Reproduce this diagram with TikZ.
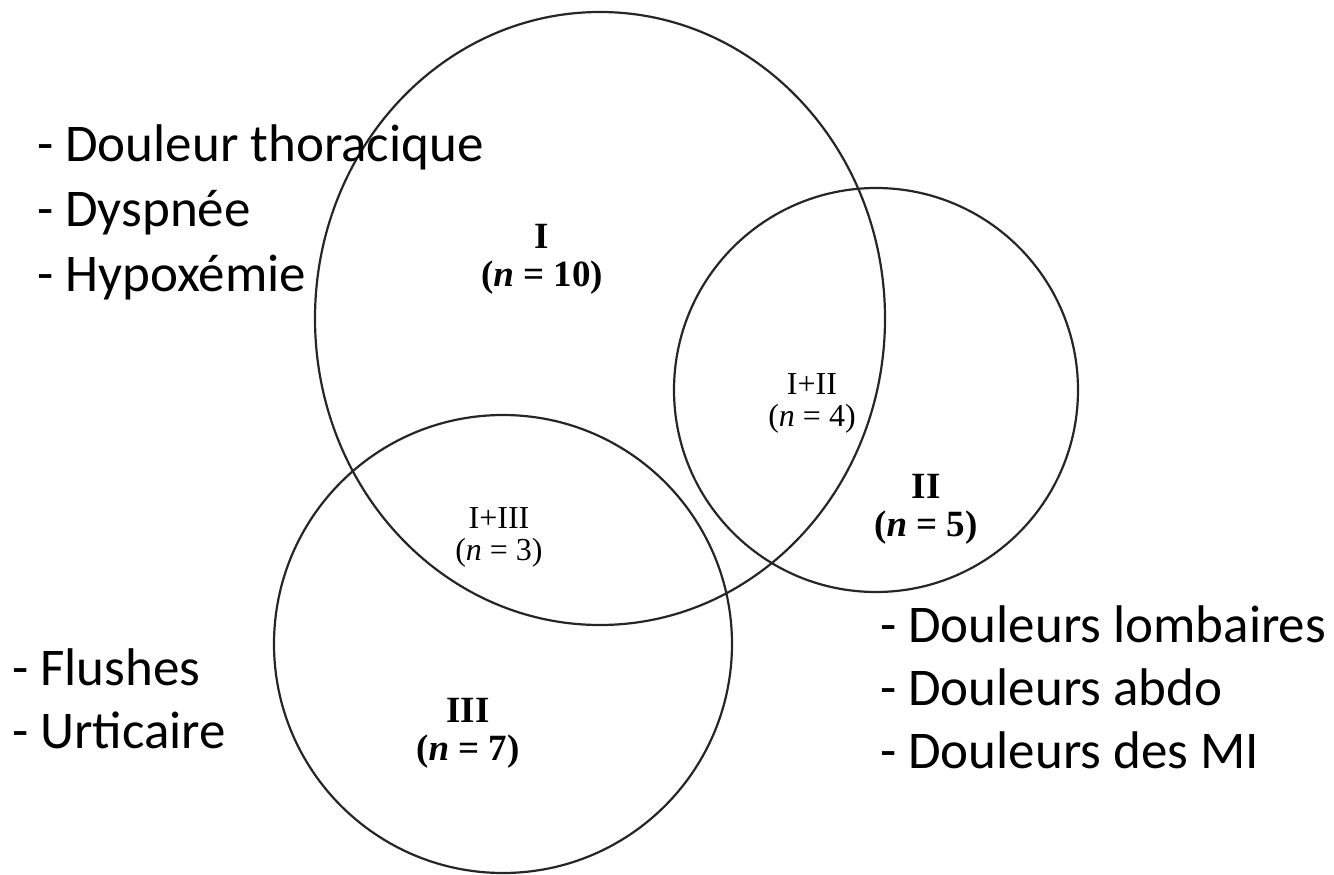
\documentclass[tikz,border=0pt]{standalone}
\usepackage{fontspec}
\setmainfont{Carlito}
\newfontfamily\timesf{Liberation Serif}
\begin{document}
\begin{tikzpicture}[x=1pt,y=-1pt,
  ring/.style={draw=black!85,line width=2.2pt},
  side/.style={font=\fontsize{53}{63}\selectfont,anchor=west,inner sep=0pt,align=left},
  big/.style={font=\timesf\bfseries\fontsize{37}{38}\selectfont,align=center,inner sep=0pt},
  small/.style={font=\timesf\fontsize{32}{32}\selectfont,align=center,inner sep=0pt}]
\useasboundingbox (0,0) rectangle (1334,875);
\draw[ring] (600,318.5) ellipse [x radius=285, y radius=306.5];
\draw[ring] (876,390) circle [radius=202];
\draw[ring] (503,644) circle [radius=229];
\node[big] (n1) at (542,259) {I\\(\textit{n} = 10)};
\node[small] (n12) at (812,403) {I+II\\(\textit{n} = 4)};
\node[big] (n2) at (926,509) {II\\(\textit{n} = 5)};
\node[small] (n13) at (499,537) {I+III\\(\textit{n} = 3)};
\node[big] (n3) at (468,733) {III\\(\textit{n} = 7)};
\node[side,font=\fontsize{53}{65}\selectfont] (t1) at (37,212) {- Douleur thoracique\\- Dyspnée\\- Hypoxémie};
\node[side] (t2) at (880,687) {- Douleurs lombaires\\- Douleurs abdo\\- Douleurs des MI};
\node[side] (t3) at (12,699) {- Flushes\\- Urticaire};
\end{tikzpicture}
\end{document}
